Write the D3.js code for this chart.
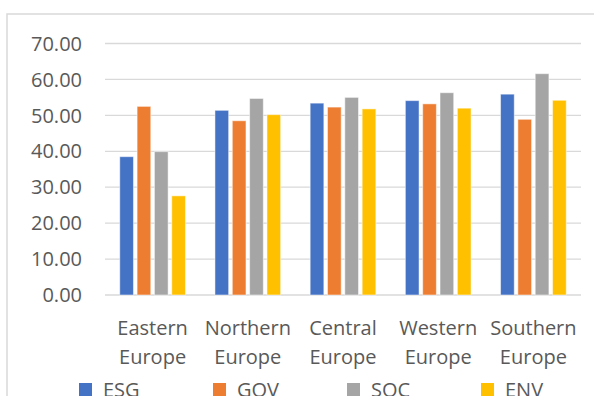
<!DOCTYPE html>
<html lang="en">
<head>
<meta charset="UTF-8">
<title>ESG scores by region</title>
<script src="https://d3js.org/d3.v7.min.js"></script>
<style>
  body { margin: 0; background: #fff; }
  svg { display: block; font-family: "Open Sans", sans-serif; }
</style>
</head>
<body>
<div id="chart"></div>
<script>
// data
const regions = [["Eastern", "Europe"], ["Northern", "Europe"], ["Central", "Europe"], ["Western", "Europe"], ["Southern", "Europe"]];
const seriesNames = ["ESG", "GOV", "SOC", "ENV"];
const esg = [38.5, 51.4, 53.4, 54.1, 55.9];
const gov = [52.5, 48.5, 52.3, 53.2, 48.9];
const soc = [39.9, 54.7, 55.0, 56.3, 61.6];
const env = [27.6, 50.2, 51.8, 52.0, 54.2];
const yTicks = [0, 10, 20, 30, 40, 50, 60, 70];
const colors = ["#4472C4", "#ED7D31", "#A5A5A5", "#FFC000"];

const values = [esg, gov, soc, env];
const W = 594, H = 396;
const plot = { left: 105, right: 581, top: 43.5, bottom: 295 };

const svg = d3.select("#chart").append("svg")
    .attr("width", W)
    .attr("height", H);

// chart frame (only left + top visible in the crop)
svg.append("path")
    .attr("d", `M7,${H} V14 H${W}`)
    .attr("fill", "none")
    .attr("stroke", "#d9d9d9")
    .attr("stroke-width", 1.5);

const y = d3.scaleLinear().domain([0, 70]).range([plot.bottom, plot.top]);

const x0 = d3.scaleBand()
    .domain(d3.range(regions.length))
    .range([plot.left, plot.right]);

const gap = x0.bandwidth() * 0.155;
const x1 = d3.scaleBand()
    .domain(seriesNames)
    .range([gap, x0.bandwidth() - gap])
    .paddingInner(0.21);

// gridlines
svg.append("g")
    .selectAll("line")
    .data(yTicks)
    .join("line")
    .attr("x1", plot.left)
    .attr("x2", plot.right)
    .attr("y1", d => y(d))
    .attr("y2", d => y(d))
    .attr("stroke", "#d9d9d9")
    .attr("stroke-width", 1.3);

// y labels
svg.append("g")
    .selectAll("text")
    .data(yTicks)
    .join("text")
    .attr("x", 82)
    .attr("y", d => y(d))
    .attr("dy", "0.36em")
    .attr("text-anchor", "end")
    .attr("font-size", 20)
    .attr("fill", "#595959")
    .text(d => d.toFixed(2));

// bars
const groups = svg.append("g")
    .selectAll("g")
    .data(regions.map((r, i) => i))
    .join("g")
    .attr("transform", i => `translate(${x0(i)},0)`);

groups.selectAll("rect")
    .data(i => seriesNames.map((s, k) => ({ s, k, v: values[k][i] })))
    .join("rect")
    .attr("x", d => x1(d.s))
    .attr("y", d => y(d.v))
    .attr("width", x1.bandwidth())
    .attr("height", d => y(0) - y(d.v))
    .attr("fill", d => colors[d.k])
    .attr("stroke", "#ffffff")
    .attr("stroke-opacity", 0.5)
    .attr("stroke-width", 1);

// category labels (two lines)
const cat = svg.append("g")
    .selectAll("text")
    .data(regions)
    .join("text")
    .attr("text-anchor", "middle")
    .attr("font-size", 20)
    .attr("fill", "#595959");

cat.selectAll("tspan")
    .data((d, i) => d.map((t, j) => ({ t, j, i })))
    .join("tspan")
    .attr("x", d => x0(d.i) + x0.bandwidth() / 2)
    .attr("y", d => 335 + d.j * 29)
    .text(d => d.t);

// legend
const legend = svg.append("g")
    .selectAll("g")
    .data(seriesNames)
    .join("g")
    .attr("transform", (d, i) => `translate(${79 + i * 134},0)`);

legend.append("rect")
    .attr("x", 0)
    .attr("y", 383)
    .attr("width", 13)
    .attr("height", 13)
    .attr("fill", (d, i) => colors[i]);

legend.append("text")
    .attr("x", 24)
    .attr("y", 397)
    .attr("font-size", 20)
    .attr("fill", "#595959")
    .text(d => d);
</script>
</body>
</html>
